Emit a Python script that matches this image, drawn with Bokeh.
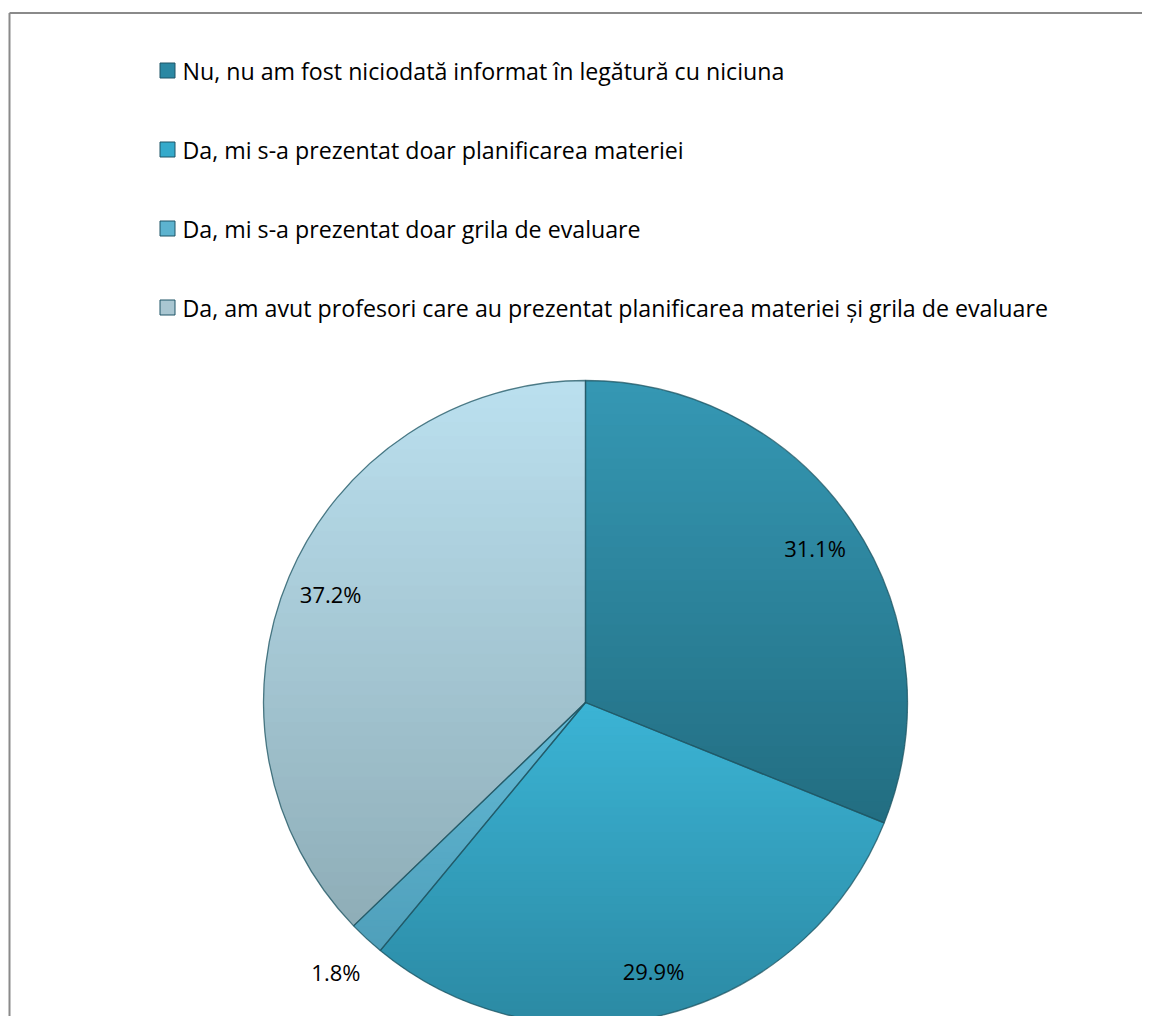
import numpy as np
from bokeh.plotting import figure
from bokeh.models import Range1d, ColumnDataSource
from bokeh.core.properties import value
from bokeh.embed import file_html
from bokeh.resources import INLINE

# ---------------- data ----------------
categories = [
    "Nu, nu am fost niciodată informat în legătură cu niciuna",
    "Da, mi s-a prezentat doar planificarea materiei",
    "Da, mi s-a prezentat doar grila de evaluare",
    "Da, am avut profesori care au prezentat planificarea materiei și grila de evaluare",
]
percents = [31.1, 29.9, 1.8, 37.2]
labels = ["31.1%", "29.9%", "1.8%", "37.2%"]
top_colors = ["#3598B4", "#3BB4D5", "#62BAD6", "#BBE0EF"]
bottom_colors = ["#226D81", "#2B89A3", "#4F9FBA", "#8EADB7"]
legend_colors = ["#2B88A3", "#35AACB", "#5DB3CF", "#A9C6D1"]

FONT = "Open Sans"
W, H = 1142, 1016
OFF = 0

p = figure(width=W, height=H, output_backend="svg", toolbar_location=None,
           x_range=Range1d(0, W), y_range=Range1d(0, H),
           min_border=0)
p.axis.visible = False
p.grid.visible = False
p.outline_line_color = None
p.background_fill_color = "white"
p.border_fill_color = "white"

def sx(x):
    return x - OFF
def sy(y):
    return H - (y - OFF)

# frame border (only top and left edges fall inside the picture)
p.segment(x0=[sx(9), sx(9)], y0=[sy(12.5), sy(12.5)],
          x1=[W + 50, sx(9)], y1=[sy(12.5), -50],
          line_color="#8A8A8A", line_width=2)

# ---------------- pie ----------------
cx, cy, R = sx(585), sy(702), 322
frac = np.array(percents) / np.sum(percents)
cum = np.concatenate([[0], np.cumsum(frac)])
start = np.pi / 2 - cum[:-1] * 2 * np.pi
end = np.pi / 2 - cum[1:] * 2 * np.pi


def hex2rgb(h):
    h = h.lstrip("#")
    return np.array([int(h[i:i + 2], 16) for i in (0, 2, 4)], dtype=float)


def rgb2hex(c):
    c = np.clip(np.round(c), 0, 255).astype(int)
    return "#%02x%02x%02x" % tuple(c)


def clip_half(pts, yv, keep_above):
    out = []
    n = len(pts)
    for i in range(n):
        a = pts[i]
        b = pts[(i + 1) % n]
        ina = a[1] >= yv if keep_above else a[1] <= yv
        inb = b[1] >= yv if keep_above else b[1] <= yv
        if ina:
            out.append(a)
        if ina != inb:
            t = (yv - a[1]) / (b[1] - a[1])
            out.append((a[0] + t * (b[0] - a[0]), yv))
    return out


# vertical gradient inside each slice, drawn as thin horizontal bands
NB = 40
bxs, bys, bcol = [], [], []
for i in range(len(percents)):
    th = np.linspace(start[i], end[i], 200)
    poly = [(cx, cy)] + [(cx + R * np.cos(t), cy + R * np.sin(t)) for t in th]
    ymin = min(q[1] for q in poly)
    ymax = max(q[1] for q in poly)
    c_top, c_bot = hex2rgb(top_colors[i]), hex2rgb(bottom_colors[i])
    edges = np.linspace(ymin, ymax, NB + 1)
    for k in range(NB):
        y0, y1 = edges[k] - 0.6, edges[k + 1] + 0.6
        band = clip_half(clip_half(poly, y0, True), y1, False)
        if len(band) < 3:
            continue
        tt = 1 - ((edges[k] + edges[k + 1]) / 2 - ymin) / (ymax - ymin)
        bxs.append([q[0] for q in band])
        bys.append([q[1] for q in band])
        bcol.append(rgb2hex(c_top + (c_bot - c_top) * tt))

p.patches(xs=bxs, ys=bys, fill_color=bcol, line_color=None)

src = ColumnDataSource(dict(start=start, end=end))
p.wedge(x=cx, y=cy, radius=R, start_angle="start", end_angle="end",
        direction="clock", fill_color=None, line_color="#1E5461",
        line_alpha=0.75, line_width=1.3, source=src)

# percentage labels
mid = np.pi / 2 - (cum[:-1] + frac / 2) * 2 * np.pi
rf = np.where(frac < 0.05, 1.14, 0.86)
lx = cx + rf * R * np.cos(mid)
ly = cy + rf * R * np.sin(mid)
p.text(x=lx, y=ly, text=labels, text_align="center", text_baseline="middle",
       text_font=value(FONT), text_font_size="22px", text_color="#000000")

# ---------------- legend ----------------
leg_y = [sy(70), sy(149), sy(228), sy(307)]
p.rect(x=[sx(167)] * 4, y=leg_y, width=15, height=15, fill_color=legend_colors,
       line_color="#1F5566", line_width=1)
p.text(x=[sx(182)] * 4, y=leg_y, text=categories, text_align="left",
       text_baseline="middle", text_font=value(FONT), text_font_size="23.2px",
       text_color="#000000")

open("out.html", "w").write(file_html(p, INLINE))
